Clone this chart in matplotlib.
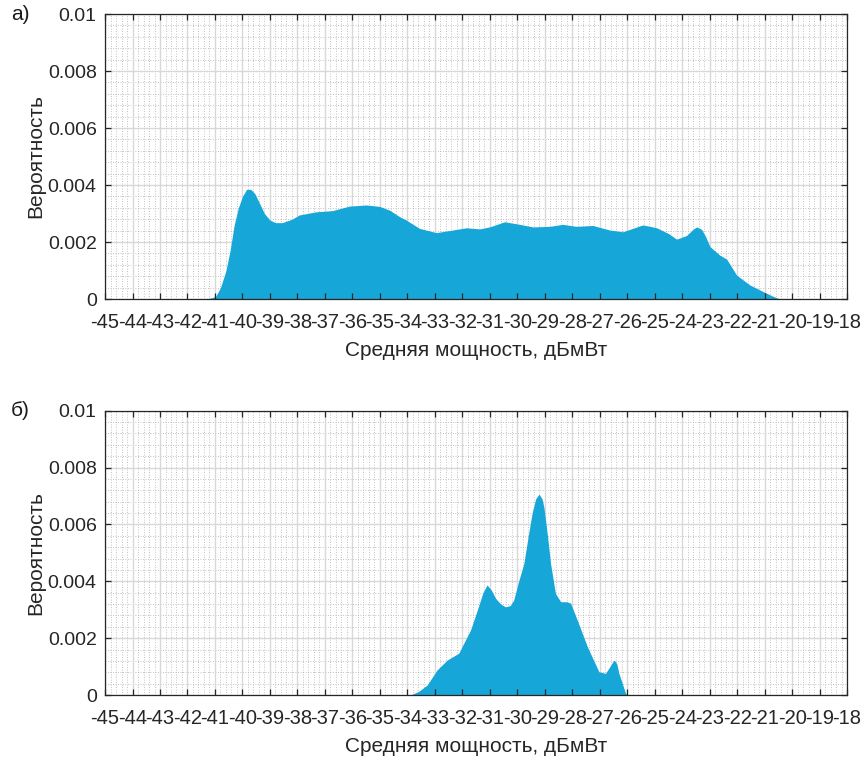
import numpy as np
import matplotlib.pyplot as plt

plt.rcParams['font.family'] = ['Liberation Sans', 'DejaVu Sans']
plt.rcParams['axes.unicode_minus'] = False

# распределение средней мощности, панель а)
p_a = [-41.32, -41.10, -40.97, -40.80, -40.60, -40.45, -40.30, -40.15, -40.00,
       -39.85, -39.70, -39.55, -39.40, -39.20, -39.00, -38.80, -38.55, -38.20,
       -37.93, -37.32, -36.73, -36.11, -35.50, -35.01, -34.65, -34.30, -34.04,
       -33.56, -32.95, -32.35, -31.85, -31.37, -31.01, -30.46, -29.91, -29.44,
       -28.82, -28.35, -27.85, -27.25, -26.63, -26.16, -25.43, -24.93, -24.50,
       -24.20, -23.84, -23.60, -23.47, -23.30, -23.15, -22.99, -22.63, -22.38,
       -22.02, -21.53, -21.05, -20.70, -20.44]
w_a = [0.0, 0.00005, 0.0001, 0.0004, 0.0010, 0.0017, 0.0026, 0.0032, 0.0036,
       0.00385, 0.00385, 0.0037, 0.0034, 0.0030, 0.00277, 0.00268, 0.00268, 0.0028,
       0.00295, 0.00306, 0.0031, 0.00326, 0.0033, 0.00325, 0.00312, 0.0029, 0.00277,
       0.00248, 0.00233, 0.00242, 0.0025, 0.00246, 0.00253, 0.00271, 0.00262, 0.00253,
       0.00255, 0.00262, 0.00255, 0.00258, 0.00242, 0.00236, 0.0026, 0.0025, 0.0023,
       0.0021, 0.00223, 0.00245, 0.00253, 0.00245, 0.0022, 0.00184, 0.00154, 0.0014,
       0.00084, 0.00049, 0.00026, 0.0001, 0.0]

# распределение средней мощности, панель б)
p_b = [-33.89, -33.60, -33.28, -32.92, -32.55, -32.13, -31.70, -31.45, -31.25,
       -31.10, -30.95, -30.79, -30.60, -30.43, -30.25, -30.13, -29.95, -29.76,
       -29.60, -29.46, -29.33, -29.21, -29.10, -29.03, -28.90, -28.79, -28.61,
       -28.42, -28.20, -28.06, -27.82, -27.45, -27.03, -26.79, -26.60, -26.48,
       -26.38, -26.30, -26.06, -25.98]
w_b = [0.0, 0.00012, 0.00035, 0.00088, 0.00123, 0.00147, 0.00229, 0.0030, 0.0036,
       0.00387, 0.0037, 0.0034, 0.0032, 0.0031, 0.00315, 0.00334, 0.0040, 0.00463,
       0.0056, 0.0064, 0.0069, 0.00707, 0.0069, 0.0066, 0.0056, 0.00463, 0.00357,
       0.00328, 0.00328, 0.00323, 0.00264, 0.0017, 0.00082, 0.00076, 0.00105, 0.00123,
       0.00110, 0.00076, 0.00006, 0.0]

xt = np.arange(-45, -17)
xtl = [str(v) for v in xt]
yt = [0, 0.002, 0.004, 0.006, 0.008, 0.01]
ytl = ['0', '0.002', '0.004', '0.006', '0.008', '0.01']

fill_c = '#17a6d8'

fig = plt.figure(figsize=(8.61, 7.58), dpi=100)
ax1 = fig.add_axes([0.122, 0.6055, 0.8618, 0.376])
ax2 = fig.add_axes([0.122, 0.0831, 0.8618, 0.3751])

for ax, p, w, lab in [(ax1, p_a, w_a, 'а)'), (ax2, p_b, w_b, 'б)')]:
    # сетка вручную, чтобы она лежала под заливкой
    for v in np.arange(-45, -18, 0.2):
        ax.axvline(v, color='#b0b0b0', lw=0.6, ls=(0, (1, 2)), zorder=0)
    for v in np.arange(0, 0.01, 0.0004):
        ax.axhline(v, color='#b0b0b0', lw=0.6, ls=(0, (1, 2)), zorder=0)
    for v in xt:
        ax.axvline(v, color='#d8d8d8', lw=1.0, zorder=0.1)
    for v in yt:
        ax.axhline(v, color='#d8d8d8', lw=1.0, zorder=0.1)

    ax.fill_between(p, w, 0, color=fill_c, lw=0, zorder=1)

    ax.set_xlim(-45, -18)
    ax.set_ylim(0, 0.01)
    ax.set_xticks(xt)
    ax.set_xticklabels(xtl)
    ax.set_yticks(yt)
    ax.set_yticklabels(ytl)
    ax.tick_params(direction='in', length=4, width=0.9, color='#262626',
                   top=True, right=True, labelcolor='#262626')
    ax.tick_params(axis='x', pad=10, labelsize=14.5)
    ax.tick_params(axis='y', pad=6, labelsize=14)
    for s in ax.spines.values():
        s.set_color('#262626')
        s.set_linewidth(0.9)
    ax.set_xlabel('Средняя мощность, дБмВт', fontsize=15, color='#262626', labelpad=6.5)
    ax.set_ylabel('Вероятность', fontsize=15, color='#262626', labelpad=1.5)
    ax.text(-0.127, 1.0, lab, transform=ax.transAxes, fontsize=15,
            ha='left', va='center', color='#1a1a1a')

fig.savefig('out.png', dpi=100)
